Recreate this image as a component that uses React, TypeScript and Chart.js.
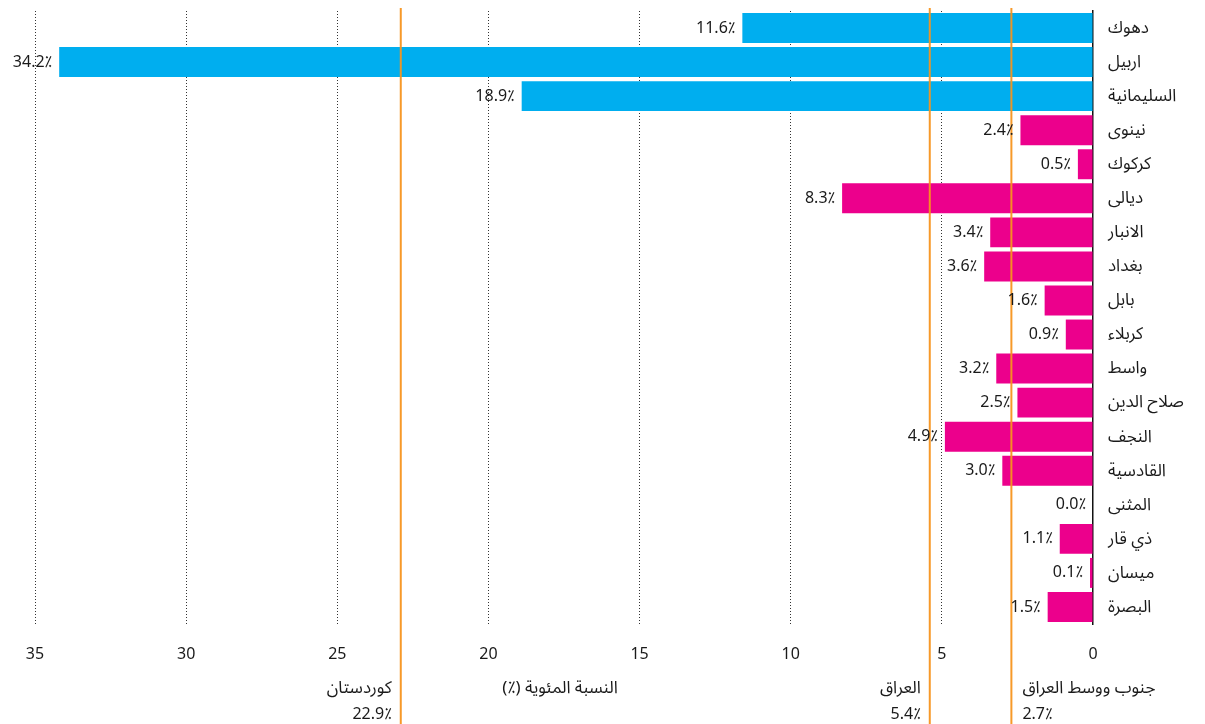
import React, { useEffect, useRef } from "react";
import { Chart, registerables } from "chart.js";

Chart.register(...registerables);

const PROVINCES = [
  "دهوك", "اربيل", "السليمانية", "نينوى", "كركوك", "ديالى", "الانبار", "بغداد", "بابل",
  "كربلاء", "واسط", "صلاح الدين", "النجف", "القادسية", "المثنى", "ذي قار", "ميسان", "البصرة",
];
const VALUES = [11.6, 34.2, 18.9, 2.4, 0.5, 8.3, 3.4, 3.6, 1.6, 0.9, 3.2, 2.5, 4.9, 3.0, 0.0, 1.1, 0.1, 1.5];
const IS_KURDISTAN = [true, true, true, false, false, false, false, false, false, false, false, false, false, false, false, false, false, false];

const REF_NAMES = ["كوردستان", "العراق", "جنوب ووسط العراق"];
const REF_VALUES = [22.9, 5.4, 2.7];
const REF_SIDES = ["left", "left", "right"];

const X_TICKS = [0, 5, 10, 15, 20, 25, 30, 35];
const AXIS_TITLE = "النسبة المئوية (٪)";

const BLUE = "#00aeef";
const PINK = "#ec008c";
const ORANGE = "rgba(247,148,29,0.95)";
const FONT = '"Noto Sans", "Noto Sans Arabic", "Open Sans", sans-serif';

const pct = (v: number) => v.toFixed(1) + "٪";

const overlayPlugin = {
  id: "overlay",
  afterDatasetsDraw(chart: any) {
    const { ctx, chartArea, scales } = chart;
    const x = scales.x;
    ctx.save();
    REF_VALUES.forEach((v, i) => {
      const px = x.getPixelForValue(v);
      ctx.strokeStyle = ORANGE;
      ctx.lineWidth = 2;
      ctx.beginPath();
      ctx.moveTo(px, chartArea.top - 3);
      ctx.lineTo(px, chart.height);
      ctx.stroke();
      const left = REF_SIDES[i] === "left";
      const tx = left ? px - 9 : px + 11;
      ctx.fillStyle = "#1a1a1a";
      ctx.textAlign = left ? "right" : "left";
      ctx.textBaseline = "middle";
      ctx.font = `17px ${FONT}`;
      ctx.fillText(REF_NAMES[i], tx, 688);
      ctx.font = `16px ${FONT}`;
      ctx.fillText(pct(v), tx, 714);
    });
    const meta = chart.getDatasetMeta(0);
    ctx.fillStyle = "#1a1a1a";
    ctx.font = `16px ${FONT}`;
    ctx.textAlign = "right";
    ctx.textBaseline = "middle";
    meta.data.forEach((bar: any, i: number) => {
      ctx.fillText(pct(VALUES[i]), bar.x - 7, bar.y);
    });
    ctx.font = `17px ${FONT}`;
    ctx.textAlign = "center";
    ctx.fillText("\u200F" + AXIS_TITLE + "\u200F", (chartArea.left + chartArea.right) / 2 - 4, 688);
    ctx.restore();
  },
};

export default function App() {
  const ref = useRef<HTMLCanvasElement>(null);
  useEffect(() => {
    if (!ref.current) return;
    const chart = new Chart(ref.current, {
      type: "bar",
      data: {
        labels: PROVINCES,
        datasets: [
          {
            data: VALUES,
            backgroundColor: IS_KURDISTAN.map((k) => (k ? BLUE : PINK)),
            borderWidth: 0,
            barPercentage: 0.88,
            categoryPercentage: 1,
          },
        ],
      },
      options: {
        indexAxis: "y",
        animation: false,
        responsive: false,
        layout: { padding: { left: 35, top: 11, right: 0, bottom: 0 } },
        plugins: { legend: { display: false }, tooltip: { enabled: false } },
        scales: {
          x: {
            type: "linear",
            reverse: true,
            min: 0,
            max: 35,
            afterBuildTicks: (s: any) => {
              s.ticks = X_TICKS.map((v) => ({ value: v }));
            },
            afterFit: (s: any) => {
              s.height = 100;
              s.paddingLeft = 0;
              s.paddingRight = 0;
            },
            grid: {
              color: (c: any) => (c.tick && c.tick.value === 0 ? "rgba(0,0,0,0)" : "#333"),
              lineWidth: 1,
              drawTicks: false,
            },
            border: { display: false, dash: [1, 2] },
            ticks: {
              padding: 21,
              color: "#1a1a1a",
              font: { family: FONT, size: 16 },
              maxRotation: 0,
            },
          },
          y: {
            position: "right",
            afterFit: (s: any) => {
              s.width = 112;
              s.paddingTop = 0;
              s.paddingBottom = 0;
            },
            grid: { display: false, drawTicks: false },
            border: { display: true, color: "#111", width: 1.5 },
            ticks: {
              padding: 15,
              color: "#1a1a1a",
              font: { family: FONT, size: 17 },
            },
          },
        },
      },
      plugins: [overlayPlugin],
    });
    return () => chart.destroy();
  }, []);
  return (
    <div style={{ position: "fixed", left: 0, top: 0, width: 1205, height: 724, background: "#fff" }}>
      <canvas ref={ref} width={1205} height={724} />
    </div>
  );
}
